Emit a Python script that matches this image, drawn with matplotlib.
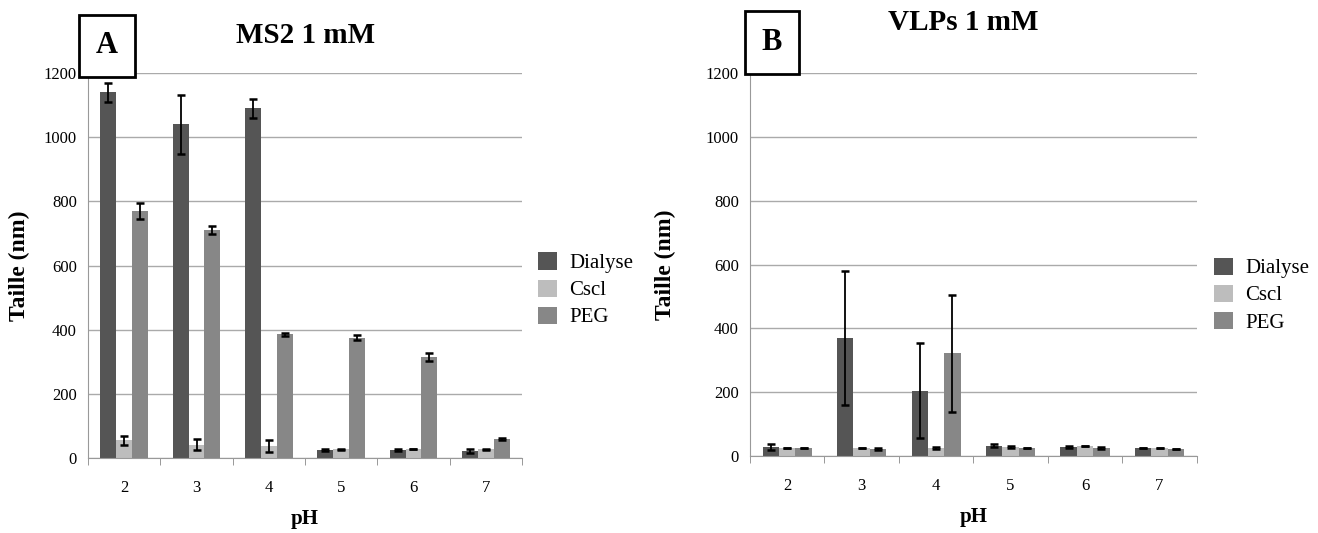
import numpy as np
import matplotlib.pyplot as plt

plt.rcParams['font.family'] = ['Liberation Serif', 'DejaVu Serif']

ph = ['2', '3', '4', '5', '6', '7']
series = ['Dialyse', 'Cscl', 'PEG']
colors = ['#555555', '#bdbdbd', '#878787']

# MS2 1 mM
ms2_dialyse = [1140, 1040, 1090, 25, 25, 22]
ms2_dialyse_err = [30, 92, 30, 3, 3, 5]
ms2_cscl = [55, 42, 37, 27, 27, 27]
ms2_cscl_err = [15, 17, 18, 2, 0, 2]
ms2_peg = [770, 710, 385, 375, 315, 58]
ms2_peg_err = [25, 12, 5, 8, 13, 3]

# VLPs 1 mM
vlp_dialyse = [28, 370, 205, 32, 28, 25]
vlp_dialyse_err = [10, 210, 150, 5, 3, 0]
vlp_cscl = [25, 25, 25, 28, 30, 25]
vlp_cscl_err = [0, 0, 3, 3, 0, 0]
vlp_peg = [25, 22, 322, 25, 25, 22]
vlp_peg_err = [0, 3, 183, 0, 3, 0]

fig = plt.figure(figsize=(13.18, 5.33), dpi=100)
ax1 = fig.add_axes([0.0668, 0.1407, 0.3292, 0.7223])
ax2 = fig.add_axes([0.569, 0.1445, 0.339, 0.7185])


def draw(ax, vals, errs, title, title_pos, letter, box, legend_pos, ylab_x):
    x = np.arange(len(ph))
    w = 0.22
    for i, (v, e) in enumerate(zip(vals, errs)):
        ax.bar(x + (i - 1) * w, v, w, color=colors[i], label=series[i], zorder=2)
        ax.errorbar(x + (i - 1) * w, v, yerr=e, fmt='none', ecolor='black',
                    elinewidth=1.3, capsize=3, capthick=1.8, zorder=3)
    ax.set_xlim(-0.5, len(ph) - 0.5)
    ax.set_ylim(0, 1200)
    ax.set_yticks(range(0, 1201, 200))
    ax.set_xticks(x)
    ax.set_xticklabels(ph)
    ax.set_xticks(np.arange(-0.5, len(ph), 1), minor=True)
    ax.tick_params(axis='x', which='major', length=0, labelsize=12, pad=16)
    ax.tick_params(axis='x', which='minor', length=5, color='#888888')
    ax.tick_params(axis='y', length=0, labelsize=12, pad=8)
    ax.grid(axis='y', color='#aaaaaa', linewidth=1, zorder=0)
    for s in ['top', 'right']:
        ax.spines[s].set_visible(False)
    for s in ['left', 'bottom']:
        ax.spines[s].set_color('#999999')
    ax.set_xlabel('pH', fontsize=15, fontweight='bold', labelpad=9)
    ax.set_ylabel('Taille (nm)', fontsize=17, fontweight='bold')
    ax.yaxis.set_label_coords(ylab_x, 0.5)
    fig.text(title_pos[0], title_pos[1], title, fontsize=21, fontweight='bold',
             ha='center', va='center')
    ax.legend(loc='center left', bbox_to_anchor=legend_pos,
              bbox_transform=fig.transFigure, frameon=False,
              fontsize=15, handlelength=0.9, handleheight=0.9, handletextpad=0.6,
              labelspacing=0.3)
    fig.text(box[0], box[1], letter, fontsize=22, fontweight='bold',
             ha='center', va='center',
             bbox=dict(boxstyle='square,pad=0.55', facecolor='white',
                       edgecolor='black', linewidth=2))


draw(ax1, [ms2_dialyse, ms2_cscl, ms2_peg],
     [ms2_dialyse_err, ms2_cscl_err, ms2_peg_err],
     'MS2 1 mM', (0.232, 0.934), 'A', (0.0812, 0.914), (0.394, 0.456), -0.134)
draw(ax2, [vlp_dialyse, vlp_cscl, vlp_peg],
     [vlp_dialyse_err, vlp_cscl_err, vlp_peg_err],
     'VLPs 1 mM', (0.731, 0.958), 'B', (0.5857, 0.920), (0.907, 0.4465), -0.166)

plt.savefig('out.png', dpi=100)
